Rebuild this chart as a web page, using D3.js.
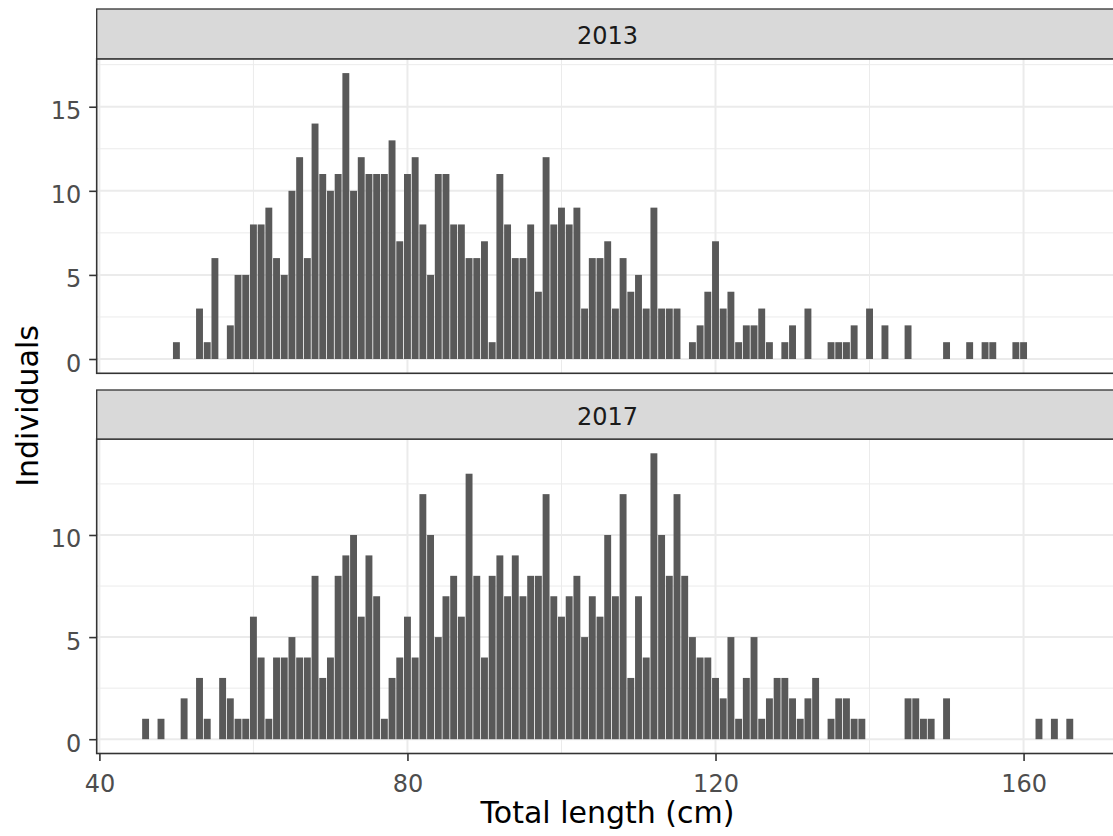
<!DOCTYPE html>
<html>
<head>
<meta charset="utf-8">
<script src="https://cdn.jsdelivr.net/npm/d3@7"></script>
<style>
  body { margin: 0; background: #fff; }
  svg { display: block; font-family: "DejaVu Sans", Verdana, sans-serif; }
</style>
</head>
<body>
<svg width="1113" height="836"></svg>
<script>
// bin centres (cm), 1 cm bins
const lengthsCm = [46,47,48,49,50,51,52,53,54,55,56,57,58,59,60,61,62,63,64,65,66,67,68,69,70,71,72,73,74,75,76,77,78,79,80,81,82,83,84,85,86,87,88,89,90,91,92,93,94,95,96,97,98,99,100,101,102,103,104,105,106,107,108,109,110,111,112,113,114,115,116,117,118,119,120,121,122,123,124,125,126,127,128,129,130,131,132,133,134,135,136,137,138,139,140,141,142,143,144,145,146,147,148,149,150,151,152,153,154,155,156,157,158,159,160,161,162,163,164,165,166];

const counts2013 = [
  0,0,0,0,
  1,0,0,3,1,6,0,2,5,5,
  8,8,9,6,5,10,12,6,14,11,
  10,11,17,10,12,11,11,11,13,7,
  11,12,8,5,11,11,8,8,6,6,
  7,1,11,8,6,6,8,4,12,8,
  9,8,9,3,6,6,7,3,6,4,
  5,3,9,3,3,3,0,1,2,4,
  7,3,4,1,2,2,3,1,0,1,
  2,0,3,0,0,1,1,1,2,0,
  3,0,2,0,0,2,0,0,0,0,
  1,0,0,1,0,1,1,0,0,1,
  1,0,0,0,0,0,0
];

const counts2017 = [
  1,0,1,0,
  0,2,0,3,1,0,3,2,1,1,
  6,4,1,4,4,5,4,4,8,3,
  4,8,9,10,6,9,7,1,3,4,
  6,4,12,10,5,7,8,6,13,8,
  4,8,9,7,9,7,8,8,12,7,
  6,7,8,5,7,6,10,7,12,3,
  7,4,14,10,8,12,8,5,4,4,
  3,2,5,1,3,5,1,2,3,3,
  2,1,2,3,0,1,2,2,1,1,
  0,0,0,0,0,2,2,1,1,0,
  2,0,0,0,0,0,0,0,0,0,
  0,0,1,0,1,0,1
];

const years = ["2013", "2017"];
const xTicks = [40, 80, 120, 160];
const xMinor = [60, 100, 140];
const yTicks2013 = [0, 5, 10, 15];
const yTicks2017 = [0, 5, 10];

const svg = d3.select("svg");
const left = 96.7, right = 1118.3;
const gridCol = "#ebebeb", borderCol = "#333333", textCol = "#4d4d4d";

const x = d3.scaleLinear().domain([39.65, 172.3]).range([left, right]);

const panels = [
  {year: years[0], counts: counts2013, ticks: yTicks2013, stripTop: 9, top: 58.8, bottom: 373.3},
  {year: years[1], counts: counts2017, ticks: yTicks2017, stripTop: 390, top: 439, bottom: 753.5}
];

panels.forEach(function(p, i) {
  const maxC = d3.max(p.counts);
  const y = d3.scaleLinear().domain([-0.05 * maxC, maxC * 1.05]).range([p.bottom, p.top]);
  const g = svg.append("g");

  g.append("rect")
    .attr("x", left).attr("y", p.top)
    .attr("width", right - left).attr("height", p.bottom - p.top)
    .attr("fill", "#fff");

  // minor grid
  const yMinor = p.ticks.map(t => t + 2.5).filter(t => y(t) > p.top);
  g.selectAll(".ymin").data(yMinor).enter().append("line")
    .attr("x1", left).attr("x2", right)
    .attr("y1", d => y(d)).attr("y2", d => y(d))
    .attr("stroke", gridCol).attr("stroke-width", 1);
  g.selectAll(".xmin").data(xMinor).enter().append("line")
    .attr("x1", d => x(d)).attr("x2", d => x(d))
    .attr("y1", p.top).attr("y2", p.bottom)
    .attr("stroke", gridCol).attr("stroke-width", 1);
  // major grid
  g.selectAll(".ymaj").data(p.ticks).enter().append("line")
    .attr("x1", left).attr("x2", right)
    .attr("y1", d => y(d)).attr("y2", d => y(d))
    .attr("stroke", gridCol).attr("stroke-width", 2);
  g.selectAll(".xmaj").data(xTicks).enter().append("line")
    .attr("x1", d => x(d)).attr("x2", d => x(d))
    .attr("y1", p.top).attr("y2", p.bottom)
    .attr("stroke", gridCol).attr("stroke-width", 2);

  // bars
  const data = lengthsCm.map((c, j) => ({len: c, n: p.counts[j]})).filter(d => d.n > 0);
  g.selectAll(".bar").data(data).enter().append("rect")
    .attr("x", d => x(d.len - 0.5) + 0.4)
    .attr("width", d => x(d.len + 0.5) - x(d.len - 0.5) - 0.8)
    .attr("y", d => y(d.n))
    .attr("height", d => y(0) - y(d.n))
    .attr("fill", "#595959");

  // panel border
  g.append("rect")
    .attr("x", left).attr("y", p.top)
    .attr("width", right - left).attr("height", p.bottom - p.top)
    .attr("fill", "none").attr("stroke", borderCol).attr("stroke-width", 1.6);

  // strip
  g.append("rect")
    .attr("x", left).attr("y", p.stripTop)
    .attr("width", right - left).attr("height", p.top - p.stripTop)
    .attr("fill", "#d9d9d9").attr("stroke", borderCol).attr("stroke-width", 1.3);
  g.append("text")
    .attr("x", (left + right) / 2)
    .attr("y", (p.stripTop + p.top) / 2)
    .attr("dy", "0.44em")
    .attr("text-anchor", "middle")
    .attr("font-size", 24)
    .attr("fill", "#1a1a1a")
    .text(p.year);

  // y axis
  const ya = g.append("g")
    .attr("transform", "translate(" + left + ",0)")
    .call(d3.axisLeft(y).tickValues(p.ticks).tickSize(7.5).tickPadding(8));
  ya.select(".domain").remove();
  ya.selectAll("line").attr("stroke", borderCol).attr("stroke-width", 1.6);
  ya.selectAll("text")
    .attr("dy", "0.5em")
    .attr("font-size", 24)
    .attr("font-family", "DejaVu Sans, Verdana, sans-serif")
    .attr("fill", textCol);

  if (i === panels.length - 1) {
    const xa = g.append("g")
      .attr("transform", "translate(0," + p.bottom + ")")
      .call(d3.axisBottom(x).tickValues(xTicks).tickSize(7.5).tickPadding(14));
    xa.select(".domain").remove();
    xa.selectAll("line").attr("stroke", borderCol).attr("stroke-width", 1.6);
    xa.selectAll("text")
      .attr("font-size", 24)
      .attr("font-family", "DejaVu Sans, Verdana, sans-serif")
      .attr("fill", textCol);
  }
});

// axis titles
svg.append("text")
  .attr("x", (left + right) / 2)
  .attr("y", 823)
  .attr("text-anchor", "middle")
  .attr("font-size", 30)
  .attr("fill", "#000")
  .text("Total length (cm)");

svg.append("text")
  .attr("transform", "translate(38,406) rotate(-90)")
  .attr("text-anchor", "middle")
  .attr("font-size", 30)
  .attr("fill", "#000")
  .text("Individuals");
</script>
</body>
</html>
